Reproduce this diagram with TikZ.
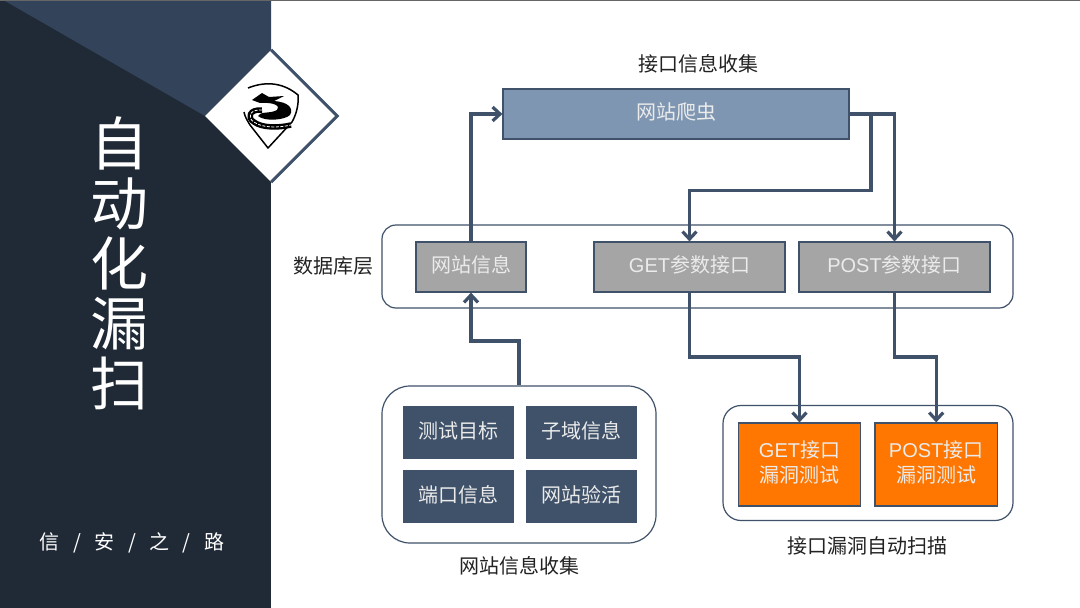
\documentclass[tikz,border=0pt]{standalone}
\usepackage{fontspec}
\setmainfont{Noto Sans CJK SC}
\newfontfamily\latinfont{Liberation Sans}
\usetikzlibrary{arrows.meta,shapes.geometric}
\definecolor{sidedark}{HTML}{202A36}
\definecolor{sidelight}{HTML}{33435A}
\definecolor{slateline}{HTML}{3F5269}
\definecolor{crawlerblue}{HTML}{7F96B2}
\definecolor{paramgray}{HTML}{A5A5A5}
\definecolor{testorange}{HTML}{FF7700}
\definecolor{labeltext}{HTML}{222222}

\begin{document}
\begin{tikzpicture}[
  x=1pt, y=-1pt,
  every node/.style={font=\fontsize{20}{25}\selectfont},
  ibox/.style={draw=slateline, line width=1.2pt, text=white!92!black, inner sep=0pt,
              text depth=5.5pt, align=center},
  gbox/.style={ibox, fill=paramgray, minimum height=50pt},
  sbox/.style={ibox, fill=slateline, minimum width=110.5pt, minimum height=51pt},
  obox/.style={ibox, fill=testorange, minimum width=122.5pt, minimum height=83pt},
  group/.style={draw=slateline, line width=1.2pt, fill=white, inner sep=0pt},
  caption/.style={text=labeltext, inner sep=0pt},
  link/.style={draw=slateline, line width=3.2pt, line join=miter},
  tip/.style={link, -{Straight Barb[length=7.5pt,width=14pt,line width=3.2pt]}},
]
  \useasboundingbox (0,0) rectangle (1080,608);
  \fill[white] (0,0) rectangle (1080,608);
  \fill[black!60] (0,0) rectangle (1080,1);

  % Side panel
  \fill[sidedark] (0,1) rectangle (271,608);
  \fill[sidelight] (5,1) -- (271,1) -- (271,50) -- (205,116) -- cycle;
  \node[text=white, align=center, inner sep=0pt, font=\fontsize{58}{60}\selectfont]
    (title) at (119,263) {自\\动\\化\\漏\\扫};
  \node[text=white, inner sep=0pt] (motto) at (132,543)
    {信\hspace{13.5pt}/\hspace{13.5pt}安\hspace{13.5pt}/\hspace{13.5pt}之\hspace{13.5pt}/\hspace{13.5pt}路};

  % Logo
  \node[diamond, fill=white, minimum width=132pt, minimum height=132pt, inner sep=0pt]
    (logo) at (271,116) {};
  \draw[slateline, line width=3pt] (logo.north) -- (logo.east) -- (logo.south);
  \draw[black, line width=1.5pt, line join=round]
    (248,88) .. controls (268,80) and (285,84) .. (298,95)
    .. controls (299,105) and (296,115) .. (292,122)
    -- (268,148) -- (250,125) .. controls (247,120) and (245,117) .. (244,112);
  \fill[black] (252,100) -- (262,93) -- (269,97) -- (284,96) -- (274,101)
    .. controls (288,102) and (294,108) .. (290,115)
    .. controls (285,120) and (265,122) .. (258,116)
    .. controls (260,111) and (270,114) .. (277,110)
    .. controls (281,106) and (274,102) .. (260,103) -- cycle;
  \draw[black, line width=5.5pt]
    (262,110) .. controls (249,109) and (247,118) .. (254,122)
    .. controls (262,128) and (278,128) .. (291,125);
  \draw[white, line width=.8pt, dash pattern=on 3pt off 1.5pt]
    (262,110) .. controls (249,109) and (247,118) .. (254,122)
    .. controls (262,128) and (278,128) .. (291,125);

  % Database layer
  \node[group, rounded corners=14pt, minimum width=631pt, minimum height=83pt]
    (dblayer) at (697.5,266.5) {};
  \node[gbox, minimum width=110pt] (siteinfo) at (471,267) {网站信息};
  \node[gbox, minimum width=191pt] (getparam) at (689.5,267) {{\latinfont GET}参数接口};
  \node[gbox, minimum width=191pt] (postparam) at (894.5,267) {{\latinfont POST}参数接口};
  \node[caption] (dblabel) at (333,266) {数据库层};

  % Crawler
  \node[ibox, fill=crawlerblue, minimum width=346pt, minimum height=50pt]
    (crawler) at (676,114) {网站爬虫};
  \node[caption] (crawlerlabel) at (698,64) {接口信息收集};

  % Site information collection
  \node[group, rounded corners=28pt, minimum width=274pt, minimum height=157pt]
    (sitegroup) at (519,464.5) {};
  \node[sbox] (target) at (458.5,432.5) {测试目标};
  \node[sbox] (subdomain) at (581.5,432.5) {子域信息};
  \node[sbox] (port) at (458.5,496.5) {端口信息};
  \node[sbox] (alive) at (581.5,496.5) {网站验活};
  \node[caption] (sitelabel) at (519,566) {网站信息收集};

  % Automatic scan
  \node[group, rounded corners=18pt, minimum width=290pt, minimum height=115pt]
    (scangroup) at (868,463) {};
  \node[obox] (gettest) at (799.5,464.5) {{\latinfont GET}接口\\漏洞测试};
  \node[obox] (posttest) at (936.2,464.5) {{\latinfont POST}接口\\漏洞测试};
  \node[caption] (scanlabel) at (867,546) {接口漏洞自动扫描};

  % Bend points
  \coordinate (branch) at (871,114);
  \coordinate (branchturn) at (871,190.5);
  \coordinate (siteturn) at (519,341);
  \coordinate (getturn) at (689.5,357);
  \coordinate (postturn) at (894.5,357);

  % Connectors
  \draw[tip] (siteinfo.north) |- (crawler.west);
  \draw[tip] (crawler.east) -| (postparam.north);
  \draw[tip] (branch) |- (branchturn) -| (getparam.north);
  \draw[tip] (sitegroup.north) |- (siteturn) -| (siteinfo.south);
  \draw[tip] (getparam.south) |- (getturn) -| (gettest.north);
  \draw[tip] (postparam.south) |- (postturn) -| (posttest.north);
\end{tikzpicture}
\end{document}
